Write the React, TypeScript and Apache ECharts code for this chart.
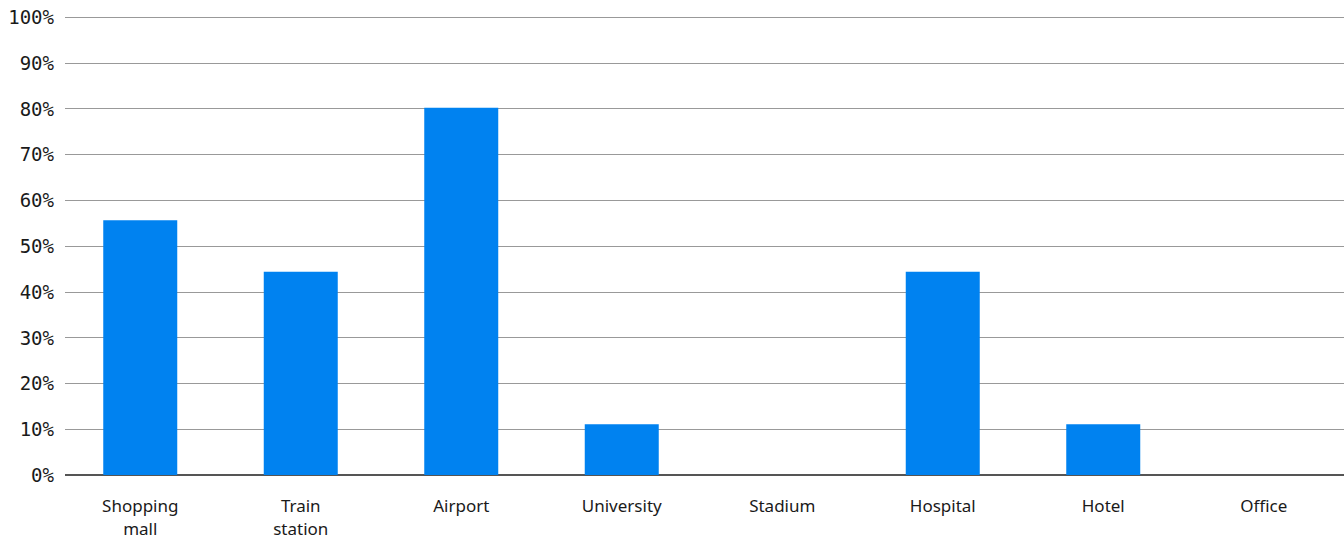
import React, { useEffect, useRef } from "react";
import * as echarts from "echarts";

const categories = ["Shopping\nmall", "Train\nstation", "Airport", "University", "Stadium", "Hospital", "Hotel", "Office"];
const values = [55.6, 44.4, 80.2, 11.1, 0, 44.4, 11.1, 0];
const yTicks = [0, 10, 20, 30, 40, 50, 60, 70, 80, 90, 100];

export default function App() {
  const ref = useRef<HTMLDivElement>(null);
  useEffect(() => {
    document.body.style.margin = "0";
    const chart = echarts.init(ref.current!, undefined, { renderer: "svg", width: 1344, height: 540 });
    chart.setOption({
      animation: false,
      grid: { left: 60, right: 0, top: 17, bottom: 60, containLabel: false },
      xAxis: {
        type: "category",
        data: categories,
        axisLine: { show: true, lineStyle: { color: "#555", width: 2 } },
        axisTick: { show: false },
        axisLabel: {
          color: "#1a1a1a",
          fontFamily: "Noto Sans",
          fontSize: 17,
          lineHeight: 23,
          margin: 19,
          interval: 0,
        },
      },
      yAxis: {
        type: "value",
        min: yTicks[0],
        max: yTicks[yTicks.length - 1],
        interval: 10,
        axisLine: { show: false },
        axisTick: { show: false },
        splitLine: { lineStyle: { color: "#999", width: 1 } },
        axisLabel: {
          color: "#1a1a1a",
          fontFamily: "DejaVu Sans Mono",
          fontSize: 19,
          margin: 6,
          formatter: "{value}%",
        },
      },
      graphic: [
        {
          type: "rect",
          left: 58,
          top: 10,
          z: 100,
          shape: { width: 7, height: 475 },
          style: { fill: "#fff" },
        },
      ],
      series: [
        {
          type: "bar",
          data: values,
          barWidth: 74,
          itemStyle: { color: "#0082F0" },
        },
      ],
    });
    return () => chart.dispose();
  }, []);
  return <div ref={ref} style={{ position: "absolute", left: 0, top: 0, width: 1344, height: 540 }} />;
}
